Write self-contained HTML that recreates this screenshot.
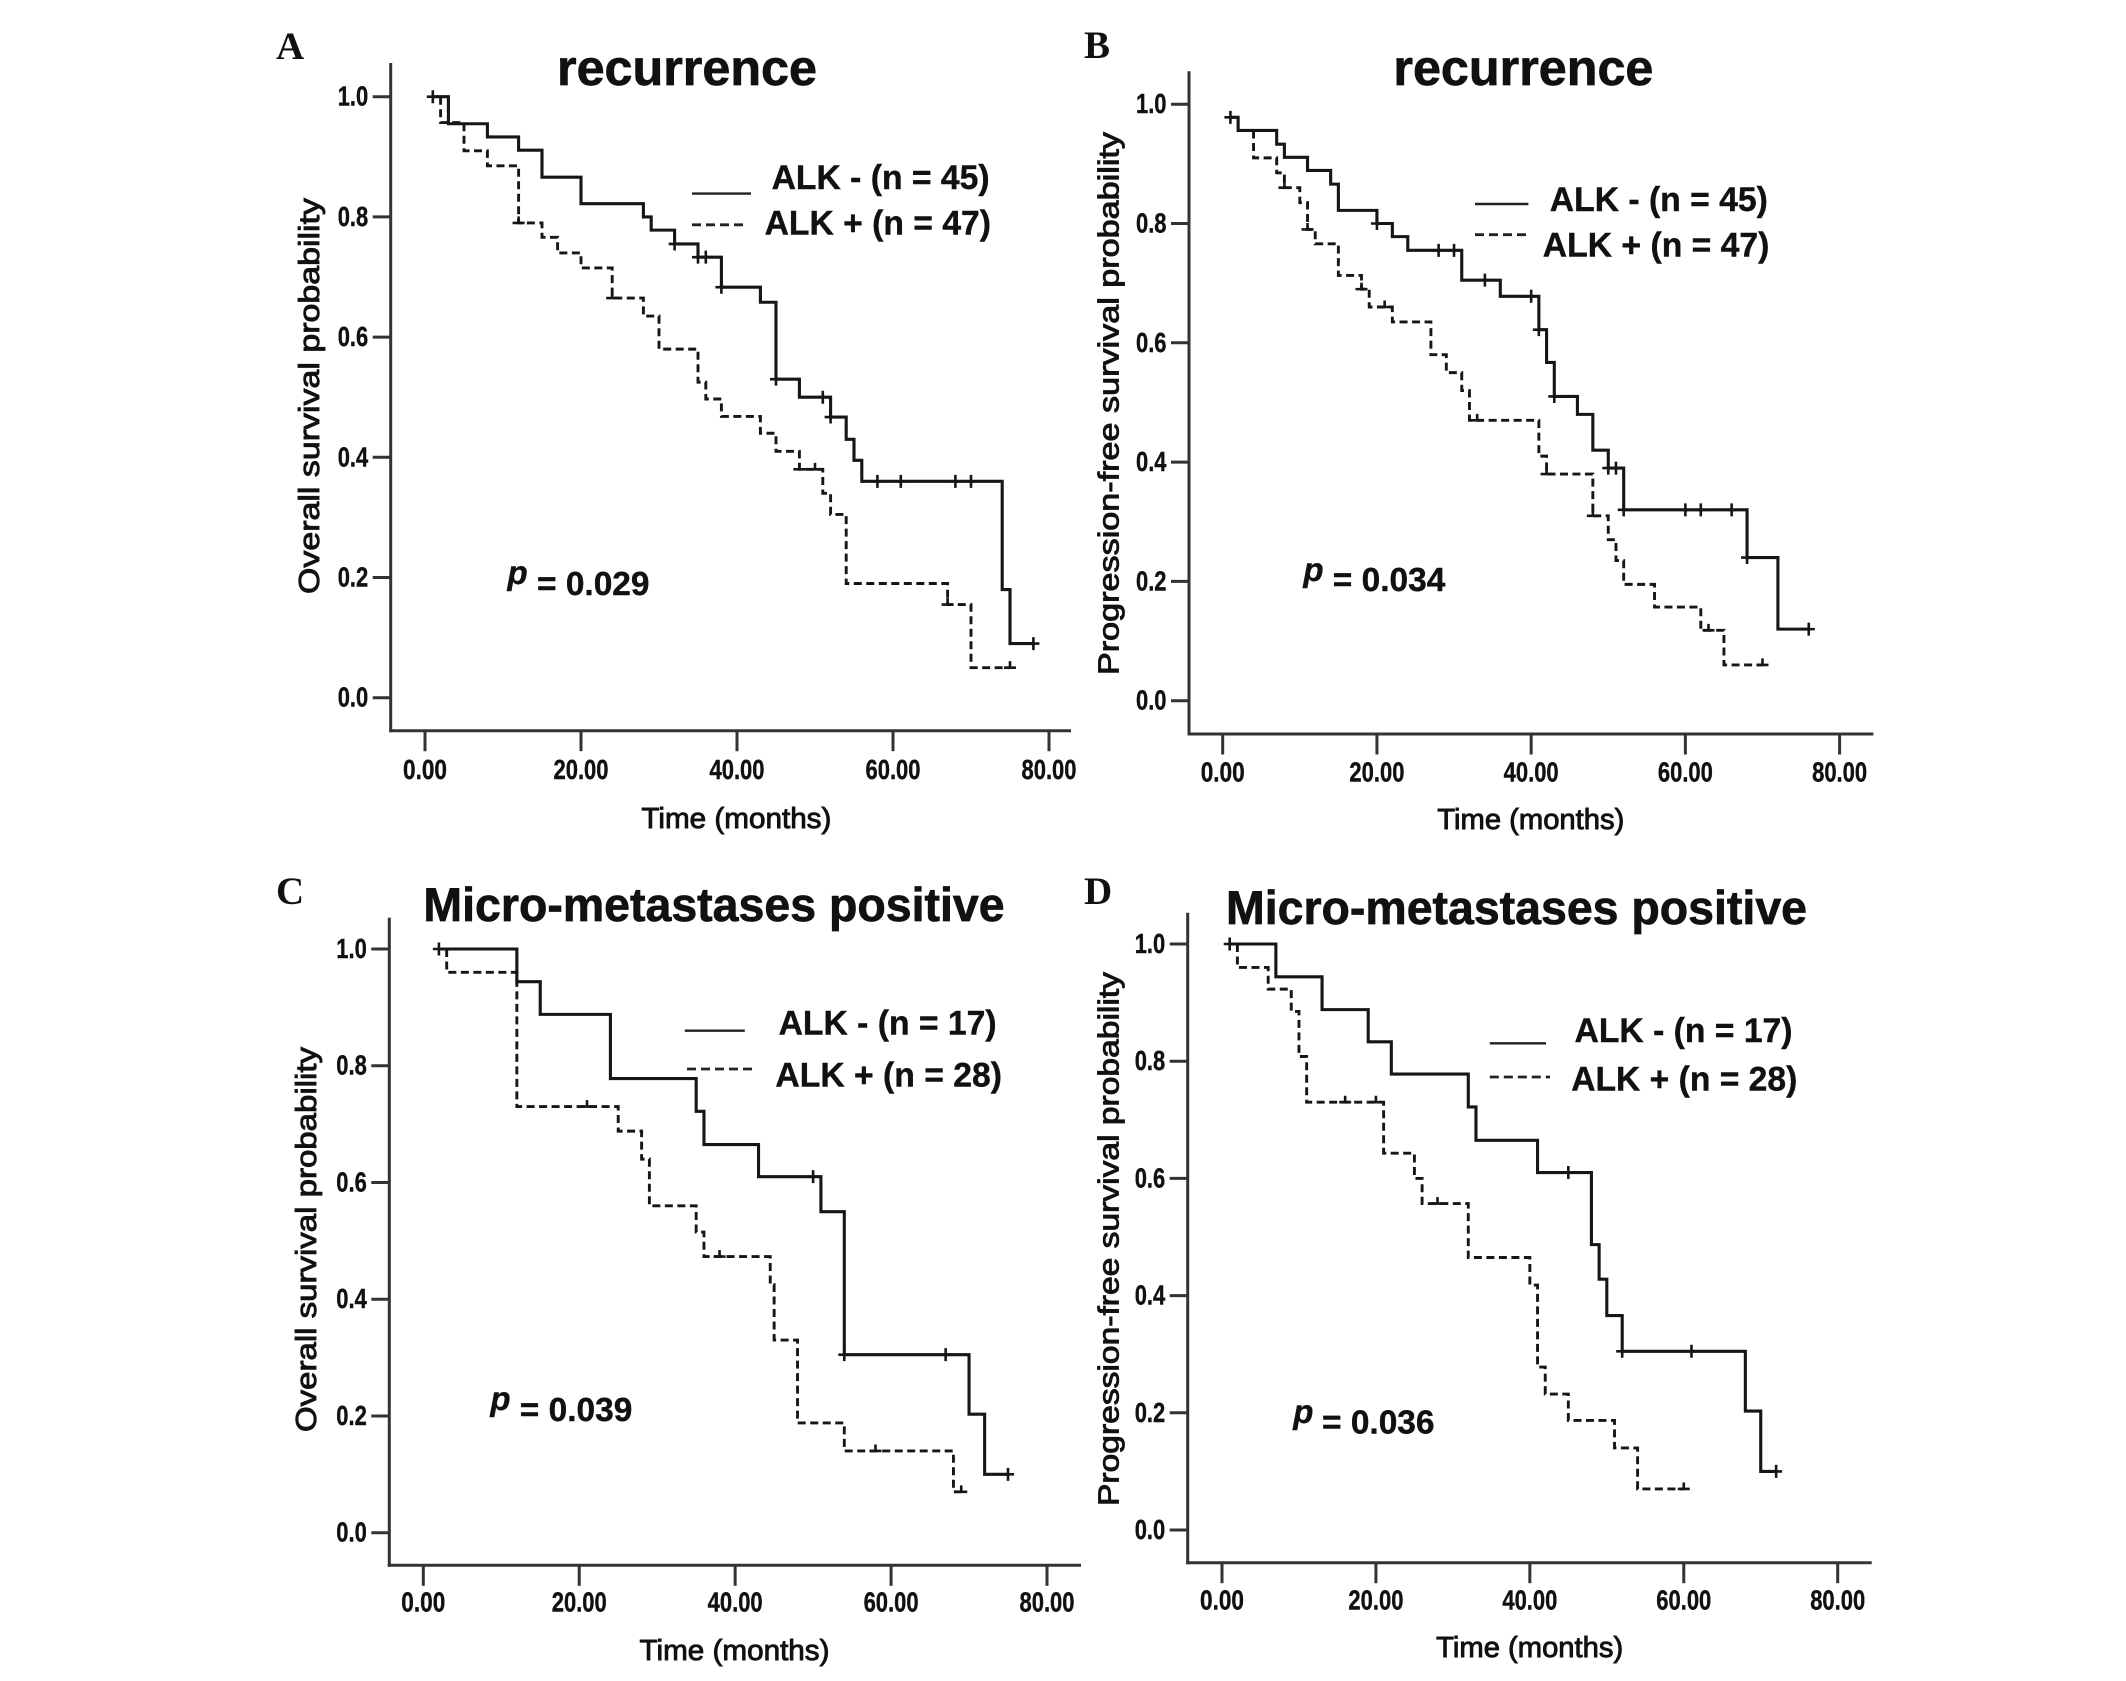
<!DOCTYPE html>
<html lang="en">
<head>
<meta charset="utf-8">
<title>ALK survival curves</title>
<style>
html,body{margin:0;padding:0;background:#fff;}
svg{display:block;}
text{font-family:"Liberation Sans",Arial,sans-serif;fill:#111;}
.pl{font-family:"Liberation Serif",serif;font-weight:bold;font-size:39px;}
.ti{font-weight:bold;stroke:#111;stroke-width:.7px;}
.lg{font-weight:bold;font-size:34px;stroke:#111;stroke-width:.4px;}
.pv{font-weight:bold;font-size:33px;stroke:#111;stroke-width:.4px;}
.pi{font-weight:bold;font-style:italic;font-size:33px;stroke:#111;stroke-width:.4px;}
.at{font-size:29px;stroke:#111;stroke-width:.9px;}
.tk{font-weight:bold;font-size:28px;fill:#111;stroke:#111;stroke-width:.4px;}
</style>
</head>
<body>
<svg id="chart" width="2126" height="1681" viewBox="0 0 2126 1681" xmlns="http://www.w3.org/2000/svg">
  <rect width="2126" height="1681" fill="#fff"/>

  <g>
    <text class="pl" x="276" y="59">A</text>
    <text class="ti" x="557" y="85" font-size="50" textLength="260" lengthAdjust="spacingAndGlyphs">recurrence</text>
    <line x1="692" x2="751" y1="193.6" y2="193.6" stroke="#222" stroke-width="2.4"/>
    <line x1="692" x2="748" y1="224.8" y2="224.8" stroke="#222" stroke-width="2.8" stroke-dasharray="9 5"/>
    <text class="lg" x="771.6" y="189" textLength="218" lengthAdjust="spacingAndGlyphs">ALK - (n = 45)</text>
    <text class="lg" x="764.6" y="234.5" textLength="226.4" lengthAdjust="spacingAndGlyphs">ALK + (n = 47)</text>
    <text class="pi" x="507.5" y="584">p</text>
    <text class="pv" x="537" y="595" textLength="112.5" lengthAdjust="spacingAndGlyphs">= 0.029</text>
    <text class="at" transform="translate(319,594) rotate(-90)" textLength="396" lengthAdjust="spacingAndGlyphs">Overall survival probability</text>
    <text class="at" x="641.4" y="828" textLength="190" lengthAdjust="spacingAndGlyphs">Time (months)</text>
  </g>

  <g>
    <text class="pl" x="1084" y="58">B</text>
    <text class="ti" x="1393.4" y="85" font-size="50" textLength="260" lengthAdjust="spacingAndGlyphs">recurrence</text>
    <line x1="1475" x2="1528.4" y1="204" y2="204" stroke="#222" stroke-width="2.4"/>
    <line x1="1475" x2="1526" y1="234.7" y2="234.7" stroke="#222" stroke-width="2.8" stroke-dasharray="9 5"/>
    <text class="lg" x="1549.8" y="211" textLength="218" lengthAdjust="spacingAndGlyphs">ALK - (n = 45)</text>
    <text class="lg" x="1542.8" y="256.6" textLength="226.6" lengthAdjust="spacingAndGlyphs">ALK + (n = 47)</text>
    <text class="pi" x="1303.4" y="581">p</text>
    <text class="pv" x="1332.8" y="591" textLength="112.5" lengthAdjust="spacingAndGlyphs">= 0.034</text>
    <text class="at" transform="translate(1118.6,675) rotate(-90)" textLength="543" lengthAdjust="spacingAndGlyphs">Progression-free survival probability</text>
    <text class="at" x="1437.3" y="829" textLength="187" lengthAdjust="spacingAndGlyphs">Time (months)</text>
  </g>

  <g>
    <text class="pl" x="276" y="904">C</text>
    <text class="ti" x="423.4" y="921" font-size="47" textLength="581.2" lengthAdjust="spacingAndGlyphs">Micro-metastases positive</text>
    <line x1="684.8" x2="744.8" y1="1030.7" y2="1030.7" stroke="#222" stroke-width="2.4"/>
    <line x1="687" x2="754" y1="1069" y2="1069" stroke="#222" stroke-width="2.8" stroke-dasharray="9 5"/>
    <text class="lg" x="778.6" y="1034.4" textLength="218" lengthAdjust="spacingAndGlyphs">ALK - (n = 17)</text>
    <text class="lg" x="775.4" y="1086.7" textLength="226.6" lengthAdjust="spacingAndGlyphs">ALK + (n = 28)</text>
    <text class="pi" x="490.4" y="1410">p</text>
    <text class="pv" x="519.8" y="1421" textLength="112.5" lengthAdjust="spacingAndGlyphs">= 0.039</text>
    <text class="at" transform="translate(316,1432) rotate(-90)" textLength="385" lengthAdjust="spacingAndGlyphs">Overall survival probability</text>
    <text class="at" x="639.5" y="1660" textLength="190" lengthAdjust="spacingAndGlyphs">Time (months)</text>
  </g>

  <g>
    <text class="pl" x="1084" y="904">D</text>
    <text class="ti" x="1226" y="924" font-size="47" textLength="581" lengthAdjust="spacingAndGlyphs">Micro-metastases positive</text>
    <line x1="1489.8" x2="1546" y1="1043.3" y2="1043.3" stroke="#222" stroke-width="2.4"/>
    <line x1="1489.8" x2="1550" y1="1077" y2="1077" stroke="#222" stroke-width="2.8" stroke-dasharray="9 5"/>
    <text class="lg" x="1574.5" y="1042" textLength="218" lengthAdjust="spacingAndGlyphs">ALK - (n = 17)</text>
    <text class="lg" x="1571.2" y="1090.4" textLength="226.1" lengthAdjust="spacingAndGlyphs">ALK + (n = 28)</text>
    <text class="pi" x="1293.2" y="1422.9">p</text>
    <text class="pv" x="1322" y="1433.3" textLength="112.5" lengthAdjust="spacingAndGlyphs">= 0.036</text>
    <text class="at" transform="translate(1118.6,1506) rotate(-90)" textLength="534" lengthAdjust="spacingAndGlyphs">Progression-free survival probability</text>
    <text class="at" x="1436.2" y="1657" textLength="187" lengthAdjust="spacingAndGlyphs">Time (months)</text>
  </g>
</svg>

<script>
// Axis tick labels
const xTickValues = [0, 20, 40, 60, 80];
const xTickLabels = ["0.00", "20.00", "40.00", "60.00", "80.00"];
const yTickValues = [0, 0.2, 0.4, 0.6, 0.8, 1.0];
const yTickLabels = ["0.0", "0.2", "0.4", "0.6", "0.8", "1.0"];

// Panel A: overall survival, recurrence
const aNegTimes = [1, 3, 8, 12, 15, 20, 28, 29, 32, 35, 38, 43, 45, 48, 52, 54, 55, 56, 74, 75, 78];
const aNegSurvival = [1.0, 0.955, 0.933, 0.911, 0.866, 0.822, 0.80, 0.778, 0.755, 0.733, 0.683, 0.658, 0.53, 0.50, 0.467, 0.43, 0.395, 0.36, 0.18, 0.09, 0.09];
const aNegCensored = [1, 32, 35, 36, 38, 45, 51, 52, 58, 61, 68, 70, 78];
const aPosTimes = [2, 2, 5, 8, 12, 15, 17, 20, 24, 28, 30, 35, 36, 38, 43, 45, 48, 51, 52, 54, 67, 70, 75];
const aPosSurvival = [1.0, 0.957, 0.91, 0.885, 0.79, 0.766, 0.74, 0.715, 0.665, 0.635, 0.58, 0.525, 0.497, 0.468, 0.44, 0.41, 0.38, 0.34, 0.305, 0.19, 0.155, 0.05, 0.05];
const aPosCensored = [12, 24, 48, 50, 67, 75];

// Panel B: progression-free survival, recurrence
const bNegTimes = [1, 2, 7, 8, 11, 14, 15, 20, 22, 24, 31, 36, 41, 42, 43, 46, 48, 50, 52, 68, 72, 76];
const bNegSurvival = [0.978, 0.956, 0.933, 0.911, 0.889, 0.866, 0.822, 0.80, 0.778, 0.755, 0.705, 0.678, 0.622, 0.567, 0.51, 0.48, 0.42, 0.39, 0.32, 0.24, 0.12, 0.12];
const bNegCensored = [1, 20, 28, 30, 34, 40, 41, 43, 50, 51, 52, 60, 62, 66, 68, 76];
const bPosTimes = [4, 4, 7, 8, 10, 11, 12, 15, 18, 19, 22, 27, 29, 31, 32, 41, 42, 48, 50, 51, 52, 56, 62, 65, 70];
const bPosSurvival = [0.956, 0.91, 0.885, 0.86, 0.835, 0.79, 0.766, 0.713, 0.69, 0.66, 0.635, 0.58, 0.55, 0.52, 0.47, 0.41, 0.38, 0.31, 0.27, 0.235, 0.195, 0.157, 0.118, 0.06, 0.06];
const bPosCensored = [8, 11, 18, 21, 33, 42, 48, 63, 70];

// Panel C: overall survival, micro-metastases positive
const cNegTimes = [2, 12, 15, 24, 35, 36, 43, 51, 54, 70, 72, 75];
const cNegSurvival = [1.0, 0.944, 0.888, 0.778, 0.722, 0.665, 0.61, 0.55, 0.305, 0.203, 0.10, 0.10];
const cNegCensored = [2, 50, 54, 67, 75];
const cPosTimes = [3, 3, 12, 25, 28, 29, 35, 36, 44.5, 45, 48, 54, 68, 69];
const cPosSurvival = [1.0, 0.96, 0.73, 0.688, 0.64, 0.56, 0.515, 0.473, 0.425, 0.33, 0.188, 0.14, 0.07, 0.07];
const cPosCensored = [21, 38, 58, 69];

// Panel D: progression-free survival, micro-metastases positive
const dNegTimes = [1, 7, 13, 19, 22, 32, 33, 41, 48, 49, 50, 52, 68, 70, 72];
const dNegSurvival = [1.0, 0.944, 0.888, 0.833, 0.778, 0.722, 0.665, 0.61, 0.487, 0.428, 0.366, 0.305, 0.203, 0.10, 0.10];
const dNegCensored = [1, 45, 52, 61, 72];
const dPosTimes = [2, 2, 6, 9, 10, 11, 21, 25, 26, 32, 40, 41, 42, 45, 51, 54, 60];
const dPosSurvival = [1.0, 0.96, 0.923, 0.885, 0.808, 0.73, 0.643, 0.60, 0.557, 0.465, 0.418, 0.278, 0.232, 0.187, 0.14, 0.07, 0.07];
const dPosCensored = [16, 20, 28, 60];

const NS = "http://www.w3.org/2000/svg";
const root = document.getElementById("chart");

function make(tag, parent, attrs) {
  const el = document.createElementNS(NS, tag);
  for (const k in attrs) el.setAttribute(k, attrs[k]);
  parent.appendChild(el);
  return el;
}

function survivalAt(times, values, t) {
  let v = values[0];
  for (let i = 0; i < times.length; i++) {
    if (times[i] <= t) v = values[i];
  }
  return v;
}

function drawSeries(g, prefix, times, values, censored, sx, sy, dashed) {
  let d = "M" + sx(times[0]) + " " + sy(values[0]);
  for (let i = 1; i < times.length; i++) {
    d += "H" + sx(times[i]) + "V" + sy(values[i]);
  }
  const line = make("path", g, {
    d: d, fill: "none", stroke: "#161616",
    "stroke-width": dashed ? 2.9 : 3.1,
    "stroke-dasharray": dashed ? "8 4.5" : "none"
  });
  
  
  censored.forEach(function (t) {
    const cx = sx(t), cy = sy(survivalAt(times, values, t));
    const mark = make("path", g, {
      d: "M" + (cx - 6) + " " + cy + "H" + (cx + 6) + "M" + cx + " " + (cy - 6.5) + "V" + (cy + (dashed ? 1 : 6.5)),
      fill: "none", stroke: "#161616", "stroke-width": 2.6
    });
    
    
  });
}

function drawPanel(id, geo, neg, pos) {
  const g = make("g", root, {});
  
  

  const sx = function (t) { return geo.x0 + (t / 80) * (geo.x80 - geo.x0); };
  const sy = function (s) { return geo.y0 + s * (geo.y1 - geo.y0); };

  const yAxis = make("line", g, { x1: geo.ax, x2: geo.ax, y1: geo.top, y2: geo.ay + 1.5, stroke: "#333", "stroke-width": 3 });
  
  
  const xAxis = make("line", g, { x1: geo.ax - 1.5, x2: geo.right, y1: geo.ay, y2: geo.ay, stroke: "#333", "stroke-width": 3 });
  
  

  xTickValues.forEach(function (v, i) {
    const x = sx(v);
    const tick = make("line", g, { x1: x, x2: x, y1: geo.ay, y2: geo.ay + 20.5, stroke: "#333", "stroke-width": 3 });
    
    
    const wide = xTickLabels[i].length > 4;
    const label = make("text", g, {
      "class": "tk", x: x - (wide ? 27.5 : 22), y: geo.xLabelY,
      textLength: wide ? 55 : 44, lengthAdjust: "spacingAndGlyphs"
    });
    
    
    label.textContent = xTickLabels[i];
  });

  yTickValues.forEach(function (v, i) {
    const y = sy(v);
    const tick = make("line", g, { x1: geo.ax - 18, x2: geo.ax, y1: y, y2: y, stroke: "#333", "stroke-width": 3 });
    
    
    const label = make("text", g, {
      "class": "tk", x: geo.ax - 53, y: y + 9,
      textLength: 30.5, lengthAdjust: "spacingAndGlyphs"
    });
    
    
    label.textContent = yTickLabels[i];
  });

  drawSeries(g, 'panel-' + id + '-alk-positive', pos[0], pos[1], pos[2], sx, sy, true);
  drawSeries(g, 'panel-' + id + '-alk-negative', neg[0], neg[1], neg[2], sx, sy, false);
}

drawPanel("a",
  { x0: 425, x80: 1049, y0: 697.7, y1: 96.7, ax: 390.7, ay: 730.7, top: 63, right: 1071, xLabelY: 779 },
  [aNegTimes, aNegSurvival, aNegCensored], [aPosTimes, aPosSurvival, aPosCensored]);
drawPanel("b",
  { x0: 1222.7, x80: 1839.6, y0: 700.7, y1: 104.2, ax: 1189, ay: 734, top: 71.3, right: 1873.4, xLabelY: 781.7 },
  [bNegTimes, bNegSurvival, bNegCensored], [bPosTimes, bPosSurvival, bPosCensored]);
drawPanel("c",
  { x0: 423.3, x80: 1047, y0: 1532.7, y1: 949, ax: 389.3, ay: 1565.3, top: 917.6, right: 1081, xLabelY: 1611.7 },
  [cNegTimes, cNegSurvival, cNegCensored], [cPosTimes, cPosSurvival, cPosCensored]);
drawPanel("d",
  { x0: 1222, x80: 1837.7, y0: 1530, y1: 944, ax: 1187.7, ay: 1562.7, top: 912.7, right: 1871.7, xLabelY: 1609.3 },
  [dNegTimes, dNegSurvival, dNegCensored], [dPosTimes, dPosSurvival, dPosCensored]);
</script>
</body>
</html>
